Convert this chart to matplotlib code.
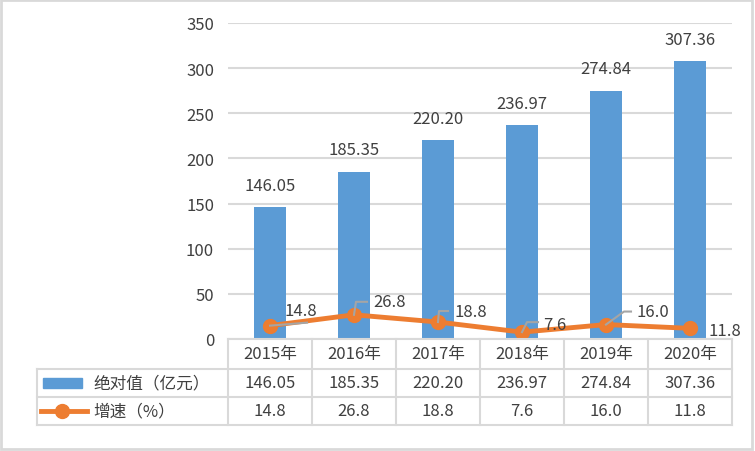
import matplotlib
matplotlib.use("Agg")
import matplotlib.pyplot as plt
from matplotlib.patches import Rectangle
from matplotlib.lines import Line2D

plt.rcParams['font.family'] = ['Noto Sans CJK SC', 'DejaVu Sans']

# data
years = ["2015年", "2016年", "2017年", "2018年", "2019年", "2020年"]
values = [146.05, 185.35, 220.20, 236.97, 274.84, 307.36]
growth = [14.8, 26.8, 18.8, 7.6, 16.0, 11.8]
bar_name = "绝对值（亿元）"
line_name = "增速（%）"

blue = "#5B9BD5"
orange = "#ED7D31"
txt = "#404040"
grid = "#D9D9D9"

W, H = 755, 452
fig = plt.figure(figsize=(W / 100, H / 100), dpi=100)


def fx(px):
    return px / W


def fy(py):
    return 1 - py / H


# plot area in pixels
left, right, top, bottom = 228, 732, 24, 340
ax = fig.add_axes([fx(left), fy(bottom), fx(right) - fx(left), fy(top) - fy(bottom)])
n = len(years)
xs = list(range(n))
ax.set_xlim(-0.5, n - 0.5)
ax.set_ylim(0, 350)
ax.set_yticks(range(0, 351, 50))
ax.tick_params(axis='y', length=0, labelsize=12, colors=txt, pad=10)
ax.set_xticks([])
for s in ax.spines.values():
    s.set_visible(False)
ax.grid(axis='y', color=grid, linewidth=1.5)
ax.set_axisbelow(True)

ax.bar(xs, values, width=0.39, color=blue, zorder=2)
for x, v in zip(xs, values):
    ax.annotate(f"{v:.2f}", (x, v), xytext=(0, 22), textcoords="offset pixels",
                ha="center", va="center", fontsize=12, color=txt)

ax.plot(xs, growth, color=orange, linewidth=3.5, marker="o", markersize=10, zorder=3)

# growth labels with leader lines (pixel offsets from the point)
lab_off = [(15, 15), (19, 13), (17, 11), (21, 8), (31, 13), (19, -2)]
lead = [
    [(0, 0), (37, 3)],
    [(0, 0), (2, 13), (13, 13)],
    [(0, 0), (1, 11), (10, 11)],
    [(0, 0), (5, 10), (16, 10)],
    [(0, 0), (18, 13), (25, 13)],
    None,
]
for x, g, off, ld in zip(xs, growth, lab_off, lead):
    ax.annotate(f"{g:.1f}", (x, g), xytext=(off[0], off[1]), textcoords="offset pixels",
                ha="left", va="center", fontsize=12, color=txt, zorder=5)
    if ld:
        px0, py0 = ax.transData.transform((x, g))
        pts = [fig.transFigure.inverted().transform((px0 + a, py0 + b)) for a, b in ld]
        fig.add_artist(Line2D([p[0] for p in pts], [p[1] for p in pts],
                              color="#A5A5A5", linewidth=1.5, zorder=4))

# data table below the axis
col_w = (right - left) / n
rows = [340, 370, 398, 426]
leg_left = 37
lw = 1.5


def hline(y, x0, x1):
    fig.add_artist(Line2D([fx(x0), fx(x1)], [fy(y), fy(y)], color=grid, linewidth=lw))


def vline(x, y0, y1):
    fig.add_artist(Line2D([fx(x), fx(x)], [fy(y0), fy(y1)], color=grid, linewidth=lw))


hline(rows[0], left, right)
for y in rows[1:]:
    hline(y, leg_left, right)
for i in range(n + 1):
    vline(left + i * col_w, rows[0], rows[3])
vline(leg_left, rows[1], rows[3])

for i in range(n):
    cx = left + (i + 0.5) * col_w
    fig.text(fx(cx), fy((rows[0] + rows[1]) / 2), years[i], ha="center", va="center",
             fontsize=12, color=txt)
    fig.text(fx(cx), fy((rows[1] + rows[2]) / 2), f"{values[i]:.2f}", ha="center",
             va="center", fontsize=12, color=txt)
    fig.text(fx(cx), fy((rows[2] + rows[3]) / 2), f"{growth[i]:.1f}", ha="center",
             va="center", fontsize=12, color=txt)

# legend keys
fig.add_artist(Rectangle((fx(43), fy(389)), fx(82) - fx(43), fy(379) - fy(389),
                         color=blue, transform=fig.transFigure))
fig.text(fx(93), fy(384), bar_name, ha="left", va="center", fontsize=12, color=txt)
fig.add_artist(Line2D([fx(41), fx(87)], [fy(412), fy(412)], color=orange, linewidth=3.5))
fig.add_artist(Line2D([fx(62)], [fy(412)], color=orange, marker="o", markersize=10))
fig.text(fx(93), fy(412), line_name, ha="left", va="center", fontsize=12, color=txt)

# outer frame
fig.add_artist(Rectangle((fx(1), fy(450)), fx(752) - fx(1), fy(1) - fy(450),
                         fill=False, edgecolor=grid, linewidth=2, transform=fig.transFigure))

fig.savefig("out.png", dpi=100)
